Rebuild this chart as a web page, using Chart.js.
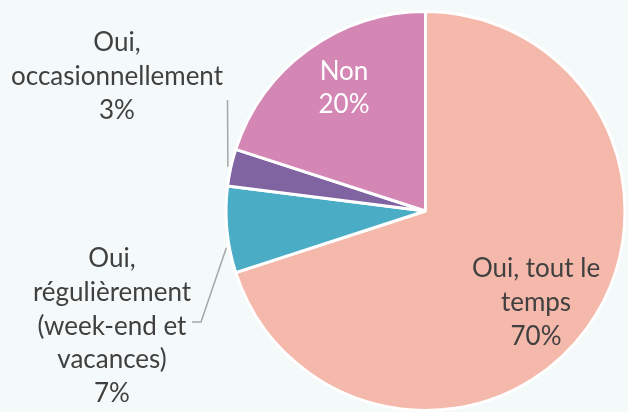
<!DOCTYPE html>
<html>
<head>
<meta charset="utf-8">
<script src="https://cdn.jsdelivr.net/npm/chart.js@4/dist/chart.umd.min.js"></script>
<style>
  html, body { margin: 0; padding: 0; background: #F4FAFA; }
  #wrap { width: 628px; height: 412px; }
</style>
</head>
<body>
<div id="wrap"><canvas id="c" width="628" height="412"></canvas></div>
<script>
const categories = ['Oui, tout le temps', 'Oui, régulièrement (week-end et vacances)', 'Oui, occasionnellement', 'Non'];
const values = [70, 7, 3, 20];
const percentLabels = ['70%', '7%', '3%', '20%'];
const labelLines = [
  ['Oui, tout le', 'temps'],
  ['Oui,', 'régulièrement', '(week-end et', 'vacances)'],
  ['Oui,', 'occasionnellement'],
  ['Non']
];
const colors = ['#F5B9AB', '#4BACC6', '#8064A2', '#D486B5'];

const FONT = '26px Lato';
const TEXT = '#404040';

// label anchor: [centerX, firstBaselineY, lineHeight, color]
const labelPos = [
  [536, 277, 34, TEXT],
  [112, 267, 33.8, TEXT],
  [117, 51, 34, TEXT],
  [344, 80, 33, '#FFFFFF']
];

const labelPlugin = {
  id: 'pieLabels',
  beforeDraw(chart) {
    const ctx = chart.ctx;
    ctx.save();
    ctx.fillStyle = '#F4FAFA';
    ctx.fillRect(0, 0, chart.width, chart.height);
    ctx.restore();
  },
  afterDatasetsDraw(chart) {
    const ctx = chart.ctx;
    const meta = chart.getDatasetMeta(0);
    ctx.save();
    // leader lines
    ctx.strokeStyle = '#A6A6A6';
    ctx.lineWidth = 1.5;
    const arcPt = (i, frac) => {
      const a = meta.data[i];
      const ang = a.startAngle + (a.endAngle - a.startAngle) * frac;
      return [a.x + Math.cos(ang) * (a.outerRadius + 3), a.y + Math.sin(ang) * (a.outerRadius + 3)];
    };
    // occasionnellement
    let p = arcPt(2, 0.5);
    ctx.beginPath();
    ctx.moveTo(227.5, 100);
    ctx.lineTo(p[0], p[1]);
    ctx.stroke();
    // régulièrement
    p = arcPt(1, 0.3);
    ctx.beginPath();
    ctx.moveTo(192, 322);
    ctx.lineTo(201, 322);
    ctx.lineTo(p[0], p[1]);
    ctx.stroke();

    ctx.font = FONT;
    ctx.textAlign = 'center';
    ctx.textBaseline = 'alphabetic';
    for (let i = 0; i < categories.length; i++) {
      const [cx, y0, lh, col] = labelPos[i];
      ctx.fillStyle = col;
      const lines = labelLines[i].concat([percentLabels[i]]);
      lines.forEach((t, k) => ctx.fillText(t, cx, y0 + k * lh));
    }
    ctx.restore();
  }
};

new Chart(document.getElementById('c'), {
  type: 'pie',
  data: {
    labels: categories,
    datasets: [{
      data: values,
      backgroundColor: colors,
      borderColor: '#FFFFFF',
      borderWidth: 3,
      clip: false
    }]
  },
  options: {
    responsive: false,
    animation: false,
    layout: { padding: { left: 223, right: -1, top: 10, bottom: -4 } },
    plugins: {
      legend: { display: false },
      tooltip: { enabled: false },
      title: { display: false }
    }
  },
  plugins: [labelPlugin]
});
</script>
</body>
</html>
